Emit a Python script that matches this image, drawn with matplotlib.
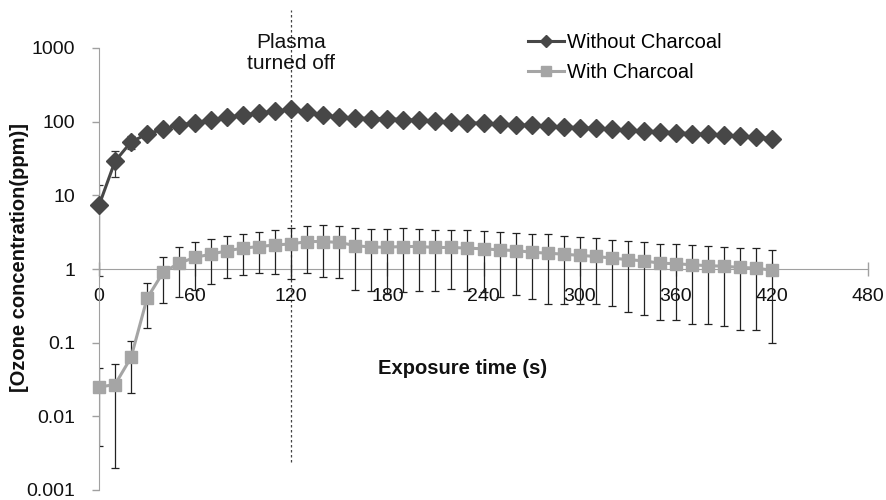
import matplotlib
matplotlib.use('Agg')
import matplotlib.pyplot as plt
from matplotlib.lines import Line2D
import numpy as np

plt.rcParams['font.family'] = ['Liberation Sans', 'DejaVu Sans']

# exposure time (s), every 10 s
time_s = list(range(0, 430, 10))

# without charcoal (ppm)
without_val = [7.3, 29, 53, 68, 79, 90, 97, 106, 115, 123, 132, 138, 147,
               136, 123, 115, 113, 110, 110, 107, 104, 101, 99, 97, 95, 93,
               91, 89, 87, 85, 83, 81, 79, 77, 75, 73, 71, 69, 67, 65, 64,
               62, 59]
without_err = [6.5, 11, 11, 8, 7, 6, 6, 6, 6, 6, 6, 6, 6,
               6, 6, 6, 18, 18, 6, 6, 6, 6, 6, 6, 6, 6,
               6, 6, 6, 6, 5, 5, 5, 5, 5, 5, 5, 5, 5, 5, 5,
               5, 5]

# with charcoal (ppm)
with_val = [0.025, 0.027, 0.063, 0.40, 0.90, 1.20, 1.44, 1.59, 1.77, 1.92,
            2.02, 2.12, 2.19, 2.36, 2.36, 2.29, 2.08, 1.98, 1.98, 2.02, 2.02,
            1.96, 1.96, 1.92, 1.88, 1.82, 1.78, 1.69, 1.64, 1.59, 1.53, 1.48,
            1.41, 1.34, 1.29, 1.20, 1.18, 1.14, 1.11, 1.09, 1.05, 1.03, 0.96]
with_err = [0.021, 0.025, 0.042, 0.24, 0.55, 0.78, 0.92, 0.97, 1.01, 1.10,
            1.13, 1.26, 1.45, 1.47, 1.59, 1.54, 1.56, 1.47, 1.52, 1.54, 1.52,
            1.45, 1.42, 1.42, 1.40, 1.40, 1.33, 1.30, 1.30, 1.25, 1.20, 1.15,
            1.10, 1.08, 1.05, 1.00, 0.98, 0.96, 0.93, 0.92, 0.90, 0.88, 0.86]

x_ticks = [0, 60, 120, 180, 240, 300, 360, 420, 480]
y_ticks = [0.001, 0.01, 0.1, 1, 10, 100, 1000]
y_ticklabels = ['0.001', '0.01', '0.1', '1', '10', '100', '1000']

plasma_off = 120

dark = '#474747'
light = '#a5a5a5'
axis_gray = '#a0a0a0'

fig = plt.figure(figsize=(8.86, 5.0), dpi=100)
ax = fig.add_axes([99 / 886, 10 / 500, 769 / 886, 442 / 500])

ax.set_yscale('log')
ax.set_xlim(0, 480)
ax.set_ylim(0.001, 1000)

# error bars behind the markers
ax.errorbar(time_s, without_val, yerr=without_err, fmt='none', ecolor='#333333',
            elinewidth=0.9, capsize=2.8, capthick=0.9, zorder=2)
ax.errorbar(time_s, with_val, yerr=with_err, fmt='none', ecolor='#222222',
            elinewidth=0.9, capsize=2.8, capthick=0.9, zorder=2)

ax.plot(time_s, without_val, color=dark, lw=2.2, marker='D', ms=9.5,
        mfc=dark, mec=dark, zorder=3, clip_on=False)
ax.plot(time_s, with_val, color=light, lw=2.2, marker='s', ms=8.5,
        mfc=light, mec=light, zorder=3, clip_on=False)

# plasma turned off line
ax.axvline(plasma_off, ymin=0.063, ymax=1.086, color='#444444', lw=0.9,
           ls=(0, (2, 2)), clip_on=False, zorder=1)
ax.text(plasma_off, 860, 'Plasma\nturned off', ha='center', va='center',
        fontsize=15, linespacing=1.15, color='#111111')

# axes styling (x axis crossing at 1)
ax.spines['top'].set_visible(False)
ax.spines['right'].set_visible(False)
ax.spines['bottom'].set_position(('data', 1))
ax.spines['bottom'].set_color(axis_gray)
ax.spines['left'].set_color(axis_gray)
ax.spines['bottom'].set_zorder(1)

ax.set_xticks(x_ticks)
ax.set_xticklabels([str(t) for t in x_ticks])
ax.set_yticks(y_ticks)
ax.set_yticklabels(y_ticklabels)
ax.yaxis.set_minor_locator(plt.NullLocator())
ax.tick_params(axis='x', direction='inout', length=10, width=1,
               color=axis_gray, pad=9, labelsize=14, labelcolor='#111111')
ax.tick_params(axis='y', direction='out', length=5, width=1,
               color=axis_gray, pad=12, labelsize=14, labelcolor='#111111')

fig.text(463 / 886, 1 - 368 / 500, 'Exposure time (s)', ha='center',
         va='center', fontsize=14.5, fontweight='bold', color='#111111')
fig.text(20 / 886, 1 - 257 / 500, '[Ozone concentration(ppm)]', ha='center',
         va='center', rotation=90, fontsize=14.5, fontweight='bold',
         color='#111111')

h1 = Line2D([], [], color=dark, lw=2.2, marker='D', ms=6, mfc=dark, mec=dark)
h2 = Line2D([], [], color=light, lw=2.2, marker='s', ms=7, mfc=light, mec=light)
ax.legend([h1, h2], ['Without Charcoal', 'With Charcoal'], loc='upper left',
          bbox_to_anchor=(528 / 886, 1 - 33 / 500),
          bbox_transform=fig.transFigure, frameon=False, fontsize=14.5,
          handlelength=1.8, handletextpad=0.15, labelspacing=0.55,
          borderpad=0, borderaxespad=0)

fig.savefig('out.png', dpi=100)
plt.close()
